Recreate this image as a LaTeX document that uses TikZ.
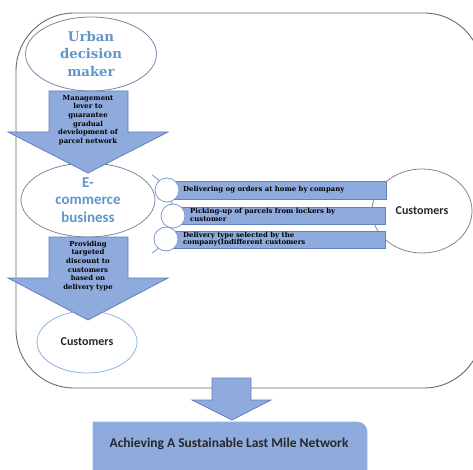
\documentclass[tikz,border=0pt]{standalone}
\usepackage{fontspec}
\setmainfont{DejaVu Serif}
\newfontfamily\calibri{Carlito}
\usetikzlibrary{shapes.geometric}

\definecolor{arrowfill}{RGB}{143,170,220}
\definecolor{arrowline}{RGB}{98,128,188}
\definecolor{titleblue}{RGB}{96,150,205}
\definecolor{ellline}{RGB}{120,135,165}
\definecolor{lightline}{RGB}{143,180,227}
\definecolor{framegray}{RGB}{105,105,105}
\definecolor{textdark}{RGB}{40,40,40}

\tikzset{
  blockarrow/.style={fill=arrowfill, draw=arrowline, line width=0.8pt},
  oval/.style={ellipse, draw=ellline, fill=white, line width=0.8pt, inner sep=0pt, align=center},
  smalltext/.style={font=\bfseries\fontsize{6.9}{8.6}\selectfont, align=center, inner sep=0pt},
  bartext/.style={font=\bfseries\fontsize{6.9}{7.4}\selectfont, align=left, inner sep=0pt, anchor=west},
  listbar/.style={rectangle, fill=arrowfill, draw=arrowline, line width=0.6pt, anchor=north west, inner sep=0pt},
  dot/.style={circle, draw=arrowfill!90!black, fill=white, line width=0.8pt, minimum size=24pt, inner sep=0pt},
}

\begin{document}
\begin{tikzpicture}[x=1pt, y=-1pt]
\useasboundingbox (0,0) rectangle (473,470);
\clip (0,0) rectangle (473,470);

% outer frame
\draw[framegray, line width=0.9pt, rounded corners=58pt] (16,13) rectangle (482,388);

% main ovals
\node[oval, minimum width=131pt, minimum height=74pt,
      font=\bfseries\fontsize{13.3}{17.5}\selectfont, text=titleblue]
  (urban) at (91,54) {Urban\\decision\\maker};
\node[oval, minimum width=134pt, minimum height=74pt,
      font=\calibri\bfseries\fontsize{15}{17.5}\selectfont, text=titleblue]
  (ecom) at (88,200) {E-\\commerce\\business};
\node[oval, draw=lightline, minimum width=100pt, minimum height=62pt,
      font=\calibri\bfseries\fontsize{12}{14}\selectfont, text=textdark]
  (custA) at (87,342) {Customers};
\node[oval, draw=framegray!80, minimum width=100pt, minimum height=84pt,
      font=\calibri\bfseries\fontsize{12}{14}\selectfont, text=textdark]
  (custB) at (422,211) {Customers};

% list of delivery options
\draw[lightline!80!gray, line width=1pt] ([shift={(126,214)}]-56:47) arc[start angle=-56, end angle=56, radius=47];

\node[listbar, minimum width=219pt, minimum height=18pt] (bar1) at (167,181) {};
\node[listbar, minimum width=212pt, minimum height=17pt] (bar2) at (173,207) {};
\node[listbar, minimum width=219pt, minimum height=17pt] (bar3) at (166,231) {};

\node[dot] (c1) at (167,190) {};
\node[dot] (c2) at (173,216) {};
\node[dot] (c3) at (166,239) {};

\node[bartext] (t1) at (183,190) {Delivering og orders at home by company};
\node[bartext] (t2) at (190,215) {Picking-up of parcels from lockers by\\customer};
\node[bartext] (t3) at (183,239) {Delivery type selected by the\\company(Indifferent customers};

% block arrows
\draw[blockarrow] (49,91) -- (128,91) -- (128,132) -- (168,132) -- (88,173) -- (8,132) -- (49,132) -- cycle;
\node[smalltext] (lever) at (88,120)
  {Management\\lever to\\guarantee\\gradual\\development of\\parcel network};

\draw[blockarrow] (49,237) -- (128,237) -- (128,278) -- (168,278) -- (88,320) -- (8,278) -- (49,278) -- cycle;
\node[smalltext] (discount) at (88,266)
  {Providing\\targeted\\discount to\\customers\\based on\\delivery type};

% goal box
\draw[fill=arrowfill, draw=lightline, line width=0.8pt]
  (93,480) [sharp corners] -- (93,422) [rounded corners=10pt] -- (367,422) -- (367,480);
\node[font=\calibri\bfseries\fontsize{13.5}{15}\selectfont, text=textdark, inner sep=0pt]
  (goal) at (229,444) {Achieving A Sustainable Last Mile Network};

\draw[blockarrow] (212,378) -- (251,378) -- (251,400) -- (271,400) -- (232,420) -- (192,400) -- (212,400) -- cycle;
\end{tikzpicture}
\end{document}
